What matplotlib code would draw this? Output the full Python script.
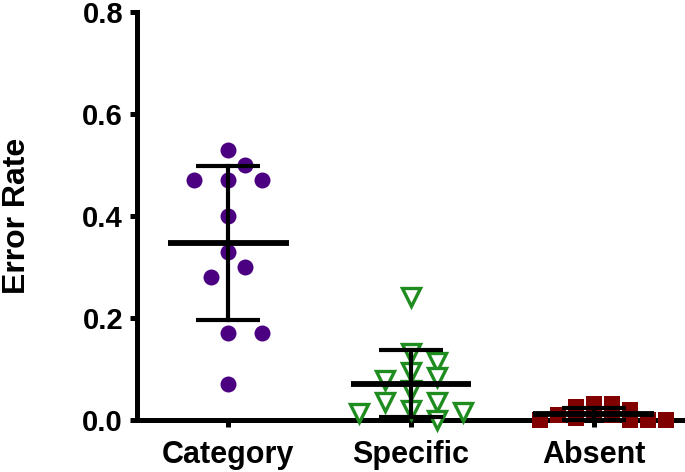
import numpy as np
import matplotlib
matplotlib.use("Agg")
import matplotlib.pyplot as plt

plt.rcParams['font.family'] = ['Liberation Sans', 'DejaVu Sans']
plt.rcParams['font.weight'] = 'bold'

categories = ["Category", "Specific", "Absent"]
category_vals = [0.529, 0.50, 0.47, 0.47, 0.47, 0.40, 0.33, 0.30, 0.28, 0.17, 0.17, 0.07]
specific_vals = [0.241, 0.131, 0.114, 0.094, 0.084, 0.078, 0.059, 0.035, 0.035,
                 0.020, 0.016, 0.014, 0.0]
absent_vals = [0.031, 0.031, 0.025, 0.020, 0.015, 0.010, 0.010, 0.005,
               0.0, 0.0, 0.0, 0.0]
yticks = [0.0, 0.2, 0.4, 0.6, 0.8]

groups = [category_vals, specific_vals, absent_vals]
colors = ["#4B0082", "#1E8C1E", "#800000"]

fig = plt.figure(figsize=(6.85, 4.72), dpi=100)
ax = fig.add_axes([0.2, 0.11, 0.8, 0.865])
ax.set_xlim(0.5, 3.5)
ax.set_ylim(0, 0.8)


def swarm(values, x0, step, sep, ythr):
    trans = ax.transData
    inv = trans.inverted()
    placed = []
    xs = []
    cands = [0]
    for k in range(1, 20):
        cands += [k * step, -k * step]
    for v in values:
        px, py = trans.transform((x0, v))
        for c in cands:
            cx = px + c
            if all(((cx - qx) / sep) ** 2 + ((py - qy) / ythr) ** 2 >= 0.98
                   for qx, qy in placed):
                placed.append((cx, py))
                xs.append(inv.transform((cx, py))[0])
                break
    return xs


marker_styles = [
    dict(marker='o', markersize=11.5, markerfacecolor=colors[0], markeredgecolor=colors[0], markeredgewidth=0),
    dict(marker='v', markersize=12.5, markerfacecolor='white', markeredgecolor=colors[1], markeredgewidth=2.4),
    dict(marker='s', markersize=11, markerfacecolor=colors[2], markeredgecolor=colors[2], markeredgewidth=0),
]
steps = [17, 26, 18]
seps = [34, 26, 18]
ythrs = [17, 14, 8]

for i, vals in enumerate(groups):
    x0 = i + 1
    xs = swarm(vals, x0, steps[i], seps[i], ythrs[i])
    ax.plot(xs, vals, linestyle='none', clip_on=False, zorder=3, **marker_styles[i])
    m = np.mean(vals)
    sd = np.std(vals, ddof=1)
    ax.plot([x0 - 0.33, x0 + 0.33], [m, m], color='black', lw=4.2, zorder=4, clip_on=False,
            solid_capstyle='butt')
    ax.plot([x0, x0], [max(m - sd, 0), m + sd], color='black', lw=3.0, zorder=4, clip_on=False)
    for yy in [m - sd, m + sd]:
        if yy >= 0:
            ax.plot([x0 - 0.175, x0 + 0.175], [yy, yy], color='black', lw=3.0, zorder=4,
                    clip_on=False, solid_capstyle='butt')

ax.set_xticks([1, 2, 3])
ax.set_xticklabels(categories, fontsize=22, fontweight='bold')
ax.set_yticks(yticks)
ax.set_yticklabels([f"{t:.1f}" for t in yticks], fontsize=21, fontweight='bold')
ax.set_ylabel("Error Rate", fontsize=23, fontweight='bold', labelpad=36)

for s in ['top', 'right']:
    ax.spines[s].set_visible(False)
for s in ['left', 'bottom']:
    ax.spines[s].set_linewidth(3.6)
ax.tick_params(axis='both', width=3.6, length=5, direction='out')
ax.tick_params(axis='x', pad=9)
ax.tick_params(axis='y', pad=5)

fig.savefig("out.png", dpi=100)
